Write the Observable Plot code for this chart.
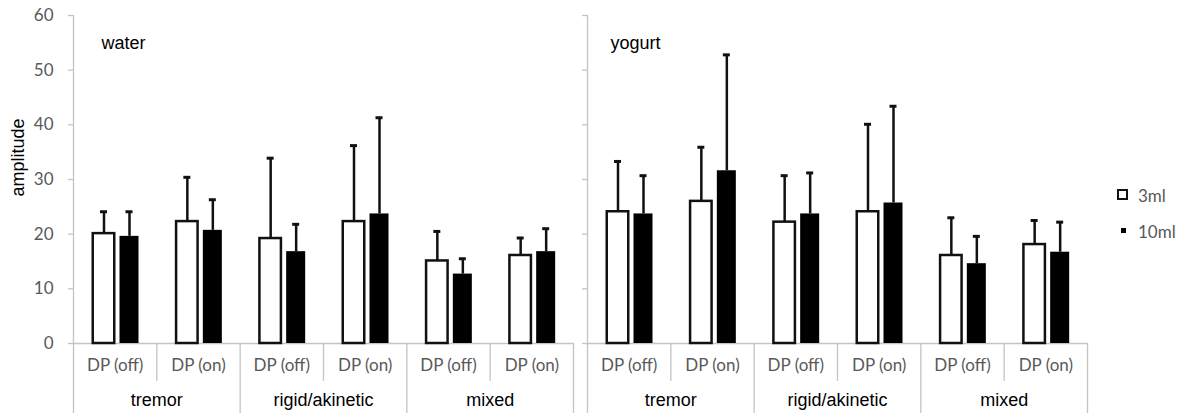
<!DOCTYPE html>
<html><head><meta charset="utf-8">
<script src="https://cdn.jsdelivr.net/npm/d3@7"></script>
<script src="https://cdn.jsdelivr.net/npm/@observablehq/plot@0.6"></script>
<style>
body{margin:0;background:#fff;}
#wrap{position:relative;width:1184px;height:413px;overflow:hidden;}
.legtxt{position:absolute;font-family:Lato,sans-serif;font-size:17px;line-height:17px;color:#595959;}
.legbox{position:absolute;box-sizing:border-box;}
</style></head><body><div id="wrap"></div>
<script>
// ---- data ----
const media = ["water", "yogurt"];
const groups = ["tremor", "rigid/akinetic", "mixed"];
const conditions = ["DP (off)", "DP (on)"];
const volumes = ["3ml", "10ml"];
// order: tremor off, tremor on, rigid off, rigid on, mixed off, mixed on
const waterMean3   = [20.1, 22.3, 19.2, 22.3, 15.1, 16.1];
const waterSd3     = [4.0, 8.1, 14.7, 13.9, 5.4, 3.2];
const waterMean10  = [19.6, 20.7, 16.8, 23.7, 12.7, 16.8];
const waterSd10    = [4.5, 5.6, 5.0, 17.6, 2.8, 4.2];
const yogurtMean3  = [24.1, 26.0, 22.2, 24.1, 16.1, 18.1];
const yogurtSd3    = [9.2, 9.9, 8.5, 16.0, 6.9, 4.4];
const yogurtMean10 = [23.7, 31.6, 23.7, 25.7, 14.6, 16.7];
const yogurtSd10   = [7.0, 21.2, 7.5, 17.7, 5.0, 5.5];
const yTicks = [0, 10, 20, 30, 40, 50, 60];

// ---- layout ----
const W = 1184, H = 413, mL = 73, mR = 97, mT = 15, mB = 70;
const panelGap = 14;
const facetW = (W - mL - mR - panelGap) / 2;
const subKeys = groups.flatMap(g => conditions.map(c => g + "|" + c));
const bw = facetW / subKeys.length;
const frameH = H - mT - mB;
const axisGray = "#c4c4c4", textGray = "#595959";
const sansFont = "'Liberation Sans', Arial, sans-serif";

const series = {
  water: {"3ml": [waterMean3, waterSd3], "10ml": [waterMean10, waterSd10]},
  yogurt: {"3ml": [yogurtMean3, yogurtSd3], "10ml": [yogurtMean10, yogurtSd10]}
};
const rows = [];
for (const m of media) for (const v of volumes) subKeys.forEach((k, i) => {
  rows.push({medium: m, volume: v, key: k, mean: series[m][v][0][i], sd: series[m][v][1][i]});
});
const r3 = rows.filter(d => d.volume === "3ml");
const r10 = rows.filter(d => d.volume === "10ml");

// bar geometry inside each sub-band (px)
const b3 = [19.75, 41.25], b10 = [46.5, 65.5];
const c3 = 30.5, c10 = 56, capHalf = 3.5;

const offKeys = subKeys.filter(k => k.endsWith("DP (off)"));
const onKeys = subKeys.filter(k => k.endsWith("DP (on)"));
const sepStyle = {stroke: axisGray, strokeWidth: 1.3};
const labelStyle = {fill: "#000", fontSize: 18, fontFamily: sansFont, fontWeight: "normal"};

const chart = Plot.plot({
  width: W, height: H,
  marginLeft: mL, marginRight: mR, marginTop: mT, marginBottom: mB,
  style: {fontFamily: "Lato, sans-serif", fontSize: "17px", background: "#fff", overflow: "visible"},
  fx: {domain: media, axis: null, paddingInner: panelGap / (facetW + panelGap), paddingOuter: 0, round: false, label: null},
  x: {domain: subKeys, padding: 0, axis: null, round: false, label: null},
  y: {domain: [0, 60], label: null, axis: null},
  marks: [
    // baseline
    Plot.ruleY([0], {stroke: axisGray, strokeWidth: 1.3}),
    // y axis ticks (both panels), labels (left only)
    Plot.axisY(yTicks, {facetAnchor: null, anchor: "left", tickSize: 5, tickFormat: () => "", stroke: axisGray, strokeWidth: 1.3, label: null}),
    Plot.axisY(yTicks, {facetAnchor: "left", anchor: "left", tickSize: 0, tickPadding: 20, fill: textGray, fontSize: 17, fontFamily: "Lato, sans-serif", label: null}),
    // vertical axis line at left of each panel, extended to bottom
    Plot.ruleX([subKeys[0]], {x: d => d, dx: -bw / 2, insetBottom: -mB, ...sepStyle}),
    // group boundaries (long) and sub-separators (short)
    Plot.ruleX(offKeys.slice(1), {x: d => d, dx: -bw / 2, insetTop: frameH, insetBottom: -mB, ...sepStyle}),
    Plot.ruleX([subKeys[subKeys.length - 1]], {x: d => d, dx: bw / 2, insetTop: frameH, insetBottom: -mB, ...sepStyle}),
    Plot.ruleX(onKeys, {x: d => d, dx: -bw / 2, insetTop: frameH, insetBottom: -38, ...sepStyle}),
    // bars
    Plot.barY(r3, {fx: "medium", x: "key", y: "mean", fill: "#fff", stroke: "#111", strokeWidth: 2.5,
      insetLeft: b3[0], insetRight: bw - b3[1]}),
    Plot.barY(r10, {fx: "medium", x: "key", y: "mean", fill: "#000",
      insetLeft: b10[0], insetRight: bw - b10[1]}),
    // error bars
    Plot.ruleX(r3, {fx: "medium", x: "key", y1: "mean", y2: d => d.mean + d.sd, dx: c3 - bw / 2, stroke: "#111", strokeWidth: 2.5}),
    Plot.ruleX(r10, {fx: "medium", x: "key", y1: "mean", y2: d => d.mean + d.sd, dx: c10 - bw / 2, stroke: "#111", strokeWidth: 2.5}),
    Plot.tickY(r3, {fx: "medium", x: "key", y: d => d.mean + d.sd, insetLeft: c3 - capHalf, insetRight: bw - c3 - capHalf, stroke: "#111", strokeWidth: 3}),
    Plot.tickY(r10, {fx: "medium", x: "key", y: d => d.mean + d.sd, insetLeft: c10 - capHalf, insetRight: bw - c10 - capHalf, stroke: "#111", strokeWidth: 3}),
    // category labels
    Plot.text(subKeys, {x: d => d, text: d => d.split("|")[1], frameAnchor: "bottom", dy: 27, fill: textGray, fontSize: 17, fontFamily: "Lato, sans-serif"}),
    Plot.text(offKeys, {x: d => d, text: d => d.split("|")[0], frameAnchor: "bottom", dx: bw / 2, dy: 62, ...labelStyle}),
    // panel labels
    Plot.text([media[0]], {fx: d => d, text: d => d, frameAnchor: "top-left", textAnchor: "start", dx: 28, dy: 21, ...labelStyle}),
    Plot.text([media[1]], {fx: d => d, text: d => d, frameAnchor: "top-left", textAnchor: "start", dx: 23, dy: 21, ...labelStyle}),
    // y label
    Plot.text(["amplitude"], {fx: d => media[0], text: d => d, frameAnchor: "left", rotate: -90, dx: -55, dy: 17, ...labelStyle})
  ]
});
const wrap = document.getElementById("wrap");
wrap.appendChild(chart);

// legend
function addLegend(label, top, boxCss) {
  const b = document.createElement("div");
  b.className = "legbox";
  Object.assign(b.style, boxCss);
  wrap.appendChild(b);
  const t = document.createElement("div");
  t.className = "legtxt";
  t.textContent = label;
  t.style.left = "1138px";
  t.style.top = (top - 8.5) + "px";
  wrap.appendChild(t);
}
addLegend(volumes[0], 195, {left: "1117px", top: "189px", width: "11px", height: "11px", border: "2.5px solid #111", background: "#fff"});
addLegend(volumes[1], 231, {left: "1121px", top: "228px", width: "5px", height: "5px", background: "#000"});
</script></body></html>
